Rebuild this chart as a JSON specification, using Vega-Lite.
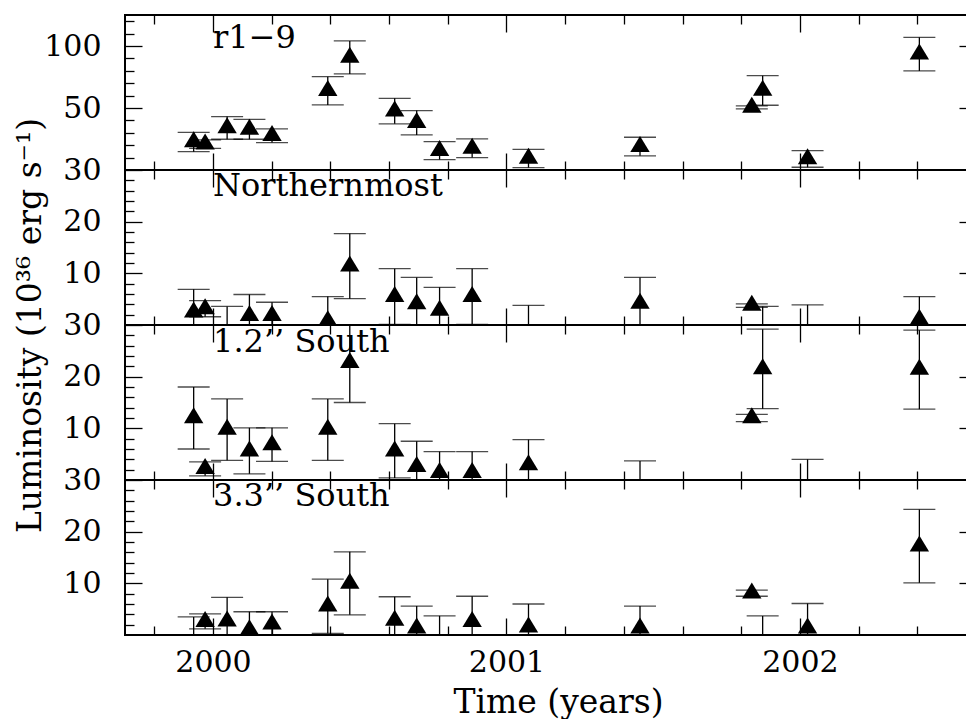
{
  "$schema": "https://vega.github.io/schema/vega-lite/v6.json",
  "background": "white",
  "padding": {"left": 12, "top": 13, "right": 0, "bottom": 0},
  "config": {
    "view": {"stroke": "black", "strokeWidth": 2},
    "axis": {
      "domain": false, "grid": false, "tickColor": "black", "tickWidth": 1.3,
      "labelFont": "DejaVu Serif", "labelFontSize": 30, "labelColor": "black", "labelOverlap": false,
      "titleFont": "DejaVu Serif", "titleFontSize": 33, "titleFontWeight": "normal", "titleColor": "black"
    }
  },
  "datasets": {
    "a": [
      {"t": 1999.934, "v": 22.6, "lo": 14.8, "hi": 30.4},
      {"t": 1999.973, "v": 20.9, "lo": 17.5, "hi": 24.3},
      {"t": 2000.048, "v": 33.9, "lo": 24.8, "hi": 43.1},
      {"t": 2000.124, "v": 32.8, "lo": 24.8, "hi": 40.9},
      {"t": 2000.201, "v": 27.6, "lo": 22.1, "hi": 33.1},
      {"t": 2000.391, "v": 63.9, "lo": 52.5, "hi": 75.3},
      {"t": 2000.466, "v": 90.8, "lo": 77.5, "hi": 104.1},
      {"t": 2000.619, "v": 47.5, "lo": 37.2, "hi": 57.8},
      {"t": 2000.694, "v": 38.1, "lo": 28.3, "hi": 47.9},
      {"t": 2000.772, "v": 15.6, "lo": 8.4, "hi": 22.9},
      {"t": 2000.883, "v": 17.5, "lo": 10.0, "hi": 25.1},
      {"t": 2001.075, "v": 9.3, "lo": 1.9, "hi": 16.7},
      {"t": 2001.455, "v": 18.9, "lo": 11.4, "hi": 26.4},
      {"t": 2001.836, "v": 50.5, "lo": 49.3, "hi": 51.7},
      {"t": 2001.873, "v": 64.2, "lo": 52.2, "hi": 76.1},
      {"t": 2002.026, "v": 8.9, "lo": 2.2, "hi": 15.6},
      {"t": 2002.407, "v": 93.5, "lo": 79.9, "hi": 107.0}
    ],
    "b": [
      {"t": 1999.934, "v": 2.5, "lo": -1.9, "hi": 6.9},
      {"t": 1999.973, "v": 3.1, "lo": 1.6, "hi": 4.7},
      {"t": 2000.048, "v": -2.5, "lo": -8.6, "hi": 3.6},
      {"t": 2000.124, "v": 1.8, "lo": -2.3, "hi": 5.9},
      {"t": 2000.201, "v": 1.8, "lo": -0.8, "hi": 4.4},
      {"t": 2000.391, "v": 0.8, "lo": -3.9, "hi": 5.5},
      {"t": 2000.466, "v": 11.4, "lo": 5.1, "hi": 17.7},
      {"t": 2000.619, "v": 5.5, "lo": 0.1, "hi": 10.9},
      {"t": 2000.694, "v": 4.1, "lo": -1.0, "hi": 9.2},
      {"t": 2000.772, "v": 2.8, "lo": -1.7, "hi": 7.3},
      {"t": 2000.883, "v": 5.5, "lo": 0.1, "hi": 10.9},
      {"t": 2001.075, "v": -2.5, "lo": -8.8, "hi": 3.8},
      {"t": 2001.455, "v": 4.2, "lo": -0.8, "hi": 9.2},
      {"t": 2001.836, "v": 3.8, "lo": 3.4, "hi": 4.1},
      {"t": 2001.873, "v": -2.5, "lo": -8.6, "hi": 3.6},
      {"t": 2002.026, "v": -2.5, "lo": -8.9, "hi": 3.9},
      {"t": 2002.407, "v": 1.1, "lo": -3.3, "hi": 5.5}
    ],
    "c": [
      {"t": 1999.934, "v": 12.0, "lo": 6.0, "hi": 18.0},
      {"t": 1999.973, "v": 2.2, "lo": 0.8, "hi": 3.5},
      {"t": 2000.048, "v": 9.8, "lo": 3.8, "hi": 15.7},
      {"t": 2000.124, "v": 5.6, "lo": 1.2, "hi": 10.1},
      {"t": 2000.201, "v": 6.8, "lo": 3.6, "hi": 10.1},
      {"t": 2000.391, "v": 9.8, "lo": 3.8, "hi": 15.7},
      {"t": 2000.466, "v": 22.7, "lo": 15.0, "hi": 30.4},
      {"t": 2000.619, "v": 5.6, "lo": 0.4, "hi": 10.9},
      {"t": 2000.694, "v": 2.6, "lo": -2.3, "hi": 7.5},
      {"t": 2000.772, "v": 1.4, "lo": -2.7, "hi": 5.5},
      {"t": 2000.883, "v": 1.4, "lo": -2.7, "hi": 5.5},
      {"t": 2001.075, "v": 2.9, "lo": -2.0, "hi": 7.8},
      {"t": 2001.455, "v": -2.5, "lo": -8.7, "hi": 3.7},
      {"t": 2001.836, "v": 12.0, "lo": 11.3, "hi": 12.7},
      {"t": 2001.873, "v": 21.5, "lo": 13.8, "hi": 29.2},
      {"t": 2002.026, "v": -2.5, "lo": -9.0, "hi": 4.0},
      {"t": 2002.407, "v": 21.4, "lo": 13.7, "hi": 29.0}
    ],
    "d": [
      {"t": 1999.934, "v": -2.5, "lo": -8.5, "hi": 3.5},
      {"t": 1999.973, "v": 2.6, "lo": 1.2, "hi": 4.1},
      {"t": 2000.048, "v": 2.7, "lo": -1.9, "hi": 7.3},
      {"t": 2000.124, "v": 1.0, "lo": -2.5, "hi": 4.5},
      {"t": 2000.201, "v": 2.1, "lo": -0.3, "hi": 4.5},
      {"t": 2000.391, "v": 5.6, "lo": 0.3, "hi": 10.8},
      {"t": 2000.466, "v": 10.0, "lo": 3.9, "hi": 16.1},
      {"t": 2000.619, "v": 2.8, "lo": -1.8, "hi": 7.4},
      {"t": 2000.694, "v": 1.3, "lo": -3.0, "hi": 5.6},
      {"t": 2000.772, "v": -2.5, "lo": -8.7, "hi": 3.7},
      {"t": 2000.883, "v": 2.6, "lo": -2.3, "hi": 7.5},
      {"t": 2001.075, "v": 1.5, "lo": -3.0, "hi": 6.0},
      {"t": 2001.455, "v": 1.3, "lo": -3.0, "hi": 5.6},
      {"t": 2001.836, "v": 8.1, "lo": 7.5, "hi": 8.7},
      {"t": 2001.873, "v": -2.5, "lo": -8.7, "hi": 3.7},
      {"t": 2002.026, "v": 1.3, "lo": -3.5, "hi": 6.1},
      {"t": 2002.407, "v": 17.2, "lo": 10.1, "hi": 24.3}
    ],
    "lab": [{"k": 1}]
  },
  "spacing": 0,
  "bounds": "flush",
  "vconcat": [
    {
      "width": 851, "height": 155,
      "data": {"name": "a"},
      "resolve": {"axis": {"x": "independent", "y": "independent"}},
      "layer": [
        {"mark": {"type": "rule", "clip": true, "color": "black", "strokeWidth": 1.3},
         "encoding": {
           "x": {"field": "t", "type": "quantitative", "scale": {"domain": [1999.7, 2002.6], "nice": false, "zero": false},
                 "axis": {"orient": "bottom", "values": [2000, 2001, 2002], "tickSize": -17, "labels": false, "title": null}},
           "y": {"field": "lo", "type": "quantitative", "scale": {"domain": [0, 125], "nice": false, "zero": false},
                 "axis": {"orient": "left", "values": [50, 100], "tickSize": -17, "labelPadding": 41, "title": null}},
           "y2": {"field": "hi"}}},
        {"mark": {"type": "tick", "orient": "horizontal", "clip": true, "color": "black", "size": 32, "thickness": 1.3},
         "encoding": {
           "x": {"field": "t", "type": "quantitative",
                 "axis": {"orient": "bottom", "values": [1999.8, 2000.2, 2000.4, 2000.6, 2000.8, 2001.2, 2001.4, 2001.6, 2001.8, 2002.2, 2002.4], "tickSize": -9, "labels": false, "title": null}},
           "y": {"field": "hi", "type": "quantitative",
                 "axis": {"orient": "left", "values": [10, 20, 30, 40, 60, 70, 80, 90, 110, 120], "tickSize": -9, "labels": false, "title": null}}}},
        {"mark": {"type": "tick", "orient": "horizontal", "clip": true, "color": "black", "size": 32, "thickness": 1.3},
         "encoding": {
           "x": {"field": "t", "type": "quantitative",
                 "axis": {"orient": "top", "values": [2000, 2001, 2002], "tickSize": -17, "labels": false, "title": null}},
           "y": {"field": "lo", "type": "quantitative",
                 "axis": {"orient": "right", "values": [50, 100], "tickSize": -17, "labels": false, "title": null}}}},
        {"mark": {"type": "point", "shape": "M-1,0.55L0,-1.1L1,0.55Z", "filled": true, "color": "black", "opacity": 1, "size": 376, "strokeWidth": 0, "clip": true},
         "encoding": {
           "x": {"field": "t", "type": "quantitative",
                 "axis": {"orient": "top", "values": [1999.8, 2000.2, 2000.4, 2000.6, 2000.8, 2001.2, 2001.4, 2001.6, 2001.8, 2002.2, 2002.4], "tickSize": -9, "labels": false, "title": null}},
           "y": {"field": "v", "type": "quantitative",
                 "axis": {"orient": "right", "values": [10, 20, 30, 40, 60, 70, 80, 90, 110, 120], "tickSize": -9, "labels": false, "title": null}}}},
        {"data": {"name": "lab"},
         "mark": {"type": "text", "align": "left", "baseline": "alphabetic", "font": "DejaVu Serif", "fontSize": 32, "color": "black", "text": "r1−9"},
         "encoding": {
           "x": {"datum": 2000.0, "type": "quantitative", "axis": null},
           "y": {"datum": 98.7, "type": "quantitative", "axis": null}}}
      ]
    },
    {
      "width": 851, "height": 155,
      "data": {"name": "b"},
      "resolve": {"axis": {"x": "independent", "y": "independent"}},
      "layer": [
        {"mark": {"type": "rule", "clip": true, "color": "black", "strokeWidth": 1.3},
         "encoding": {
           "x": {"field": "t", "type": "quantitative", "scale": {"domain": [1999.7, 2002.6], "nice": false, "zero": false},
                 "axis": {"orient": "bottom", "values": [2000, 2001, 2002], "tickSize": -17, "labels": false, "title": null}},
           "y": {"field": "lo", "type": "quantitative", "scale": {"domain": [0, 30], "nice": false, "zero": false},
                 "axis": {"orient": "left", "values": [10, 20, 30], "tickSize": -17, "labelPadding": 41,
                          "title": "Luminosity (10³⁶ erg s⁻¹)", "titleX": -95, "titleY": 155, "titleAngle": 270, "titleAlign": "center", "titleBaseline": "middle"}},
           "y2": {"field": "hi"}}},
        {"mark": {"type": "tick", "orient": "horizontal", "clip": true, "color": "black", "size": 32, "thickness": 1.3},
         "encoding": {
           "x": {"field": "t", "type": "quantitative",
                 "axis": {"orient": "bottom", "values": [1999.8, 2000.2, 2000.4, 2000.6, 2000.8, 2001.2, 2001.4, 2001.6, 2001.8, 2002.2, 2002.4], "tickSize": -9, "labels": false, "title": null}},
           "y": {"field": "hi", "type": "quantitative",
                 "axis": {"orient": "left", "values": [2, 4, 6, 8, 12, 14, 16, 18, 22, 24, 26, 28], "tickSize": -9, "labels": false, "title": null}}}},
        {"mark": {"type": "tick", "orient": "horizontal", "clip": true, "color": "black", "size": 32, "thickness": 1.3},
         "encoding": {
           "x": {"field": "t", "type": "quantitative",
                 "axis": {"orient": "top", "values": [2000, 2001, 2002], "tickSize": -17, "labels": false, "title": null}},
           "y": {"field": "lo", "type": "quantitative",
                 "axis": {"orient": "right", "values": [10, 20], "tickSize": -17, "labels": false, "title": null}}}},
        {"mark": {"type": "point", "shape": "M-1,0.55L0,-1.1L1,0.55Z", "filled": true, "color": "black", "opacity": 1, "size": 376, "strokeWidth": 0, "clip": true},
         "encoding": {
           "x": {"field": "t", "type": "quantitative",
                 "axis": {"orient": "top", "values": [1999.8, 2000.2, 2000.4, 2000.6, 2000.8, 2001.2, 2001.4, 2001.6, 2001.8, 2002.2, 2002.4], "tickSize": -9, "labels": false, "title": null}},
           "y": {"field": "v", "type": "quantitative",
                 "axis": {"orient": "right", "values": [2, 4, 6, 8, 12, 14, 16, 18, 22, 24, 26, 28], "tickSize": -9, "labels": false, "title": null}}}},
        {"data": {"name": "lab"},
         "mark": {"type": "text", "align": "left", "baseline": "alphabetic", "font": "DejaVu Serif", "fontSize": 32, "color": "black", "text": "Northernmost"},
         "encoding": {
           "x": {"datum": 2000.0, "type": "quantitative", "axis": null},
           "y": {"datum": 24.9, "type": "quantitative", "axis": null}}}
      ]
    },
    {
      "width": 851, "height": 155,
      "data": {"name": "c"},
      "resolve": {"axis": {"x": "independent", "y": "independent"}},
      "layer": [
        {"mark": {"type": "rule", "clip": true, "color": "black", "strokeWidth": 1.3},
         "encoding": {
           "x": {"field": "t", "type": "quantitative", "scale": {"domain": [1999.7, 2002.6], "nice": false, "zero": false},
                 "axis": {"orient": "bottom", "values": [2000, 2001, 2002], "tickSize": -17, "labels": false, "title": null}},
           "y": {"field": "lo", "type": "quantitative", "scale": {"domain": [0, 30], "nice": false, "zero": false},
                 "axis": {"orient": "left", "values": [10, 20, 30], "tickSize": -17, "labelPadding": 41, "title": null}},
           "y2": {"field": "hi"}}},
        {"mark": {"type": "tick", "orient": "horizontal", "clip": true, "color": "black", "size": 32, "thickness": 1.3},
         "encoding": {
           "x": {"field": "t", "type": "quantitative",
                 "axis": {"orient": "bottom", "values": [1999.8, 2000.2, 2000.4, 2000.6, 2000.8, 2001.2, 2001.4, 2001.6, 2001.8, 2002.2, 2002.4], "tickSize": -9, "labels": false, "title": null}},
           "y": {"field": "hi", "type": "quantitative",
                 "axis": {"orient": "left", "values": [2, 4, 6, 8, 12, 14, 16, 18, 22, 24, 26, 28], "tickSize": -9, "labels": false, "title": null}}}},
        {"mark": {"type": "tick", "orient": "horizontal", "clip": true, "color": "black", "size": 32, "thickness": 1.3},
         "encoding": {
           "x": {"field": "t", "type": "quantitative",
                 "axis": {"orient": "top", "values": [2000, 2001, 2002], "tickSize": -17, "labels": false, "title": null}},
           "y": {"field": "lo", "type": "quantitative",
                 "axis": {"orient": "right", "values": [10, 20], "tickSize": -17, "labels": false, "title": null}}}},
        {"mark": {"type": "point", "shape": "M-1,0.55L0,-1.1L1,0.55Z", "filled": true, "color": "black", "opacity": 1, "size": 376, "strokeWidth": 0, "clip": true},
         "encoding": {
           "x": {"field": "t", "type": "quantitative",
                 "axis": {"orient": "top", "values": [1999.8, 2000.2, 2000.4, 2000.6, 2000.8, 2001.2, 2001.4, 2001.6, 2001.8, 2002.2, 2002.4], "tickSize": -9, "labels": false, "title": null}},
           "y": {"field": "v", "type": "quantitative",
                 "axis": {"orient": "right", "values": [2, 4, 6, 8, 12, 14, 16, 18, 22, 24, 26, 28], "tickSize": -9, "labels": false, "title": null}}}},
        {"data": {"name": "lab"},
         "mark": {"type": "text", "align": "left", "baseline": "alphabetic", "font": "DejaVu Serif", "fontSize": 32, "color": "black", "text": "1.2’’ South"},
         "encoding": {
           "x": {"datum": 2000.0, "type": "quantitative", "axis": null},
           "y": {"datum": 24.7, "type": "quantitative", "axis": null}}}
      ]
    },
    {
      "width": 851, "height": 155,
      "data": {"name": "d"},
      "resolve": {"axis": {"x": "independent", "y": "independent"}},
      "layer": [
        {"mark": {"type": "rule", "clip": true, "color": "black", "strokeWidth": 1.3},
         "encoding": {
           "x": {"field": "t", "type": "quantitative", "scale": {"domain": [1999.7, 2002.6], "nice": false, "zero": false},
                 "axis": {"orient": "bottom", "values": [2000, 2001, 2002], "tickSize": -17, "format": "d",
                          "labelBaseline": "alphabetic", "labelPadding": 53,
                          "title": "Time (years)", "titleX": 433, "titleY": 77, "titleAlign": "center", "titleBaseline": "alphabetic"}},
           "y": {"field": "lo", "type": "quantitative", "scale": {"domain": [0, 30], "nice": false, "zero": false},
                 "axis": {"orient": "left", "values": [10, 20, 30], "tickSize": -17, "labelPadding": 41, "title": null}},
           "y2": {"field": "hi"}}},
        {"mark": {"type": "tick", "orient": "horizontal", "clip": true, "color": "black", "size": 32, "thickness": 1.3},
         "encoding": {
           "x": {"field": "t", "type": "quantitative",
                 "axis": {"orient": "bottom", "values": [1999.8, 2000.2, 2000.4, 2000.6, 2000.8, 2001.2, 2001.4, 2001.6, 2001.8, 2002.2, 2002.4], "tickSize": -9, "labels": false, "title": null}},
           "y": {"field": "hi", "type": "quantitative",
                 "axis": {"orient": "left", "values": [2, 4, 6, 8, 12, 14, 16, 18, 22, 24, 26, 28], "tickSize": -9, "labels": false, "title": null}}}},
        {"mark": {"type": "tick", "orient": "horizontal", "clip": true, "color": "black", "size": 32, "thickness": 1.3},
         "encoding": {
           "x": {"field": "t", "type": "quantitative",
                 "axis": {"orient": "top", "values": [2000, 2001, 2002], "tickSize": -17, "labels": false, "title": null}},
           "y": {"field": "lo", "type": "quantitative",
                 "axis": {"orient": "right", "values": [10, 20], "tickSize": -17, "labels": false, "title": null}}}},
        {"mark": {"type": "point", "shape": "M-1,0.55L0,-1.1L1,0.55Z", "filled": true, "color": "black", "opacity": 1, "size": 376, "strokeWidth": 0, "clip": true},
         "encoding": {
           "x": {"field": "t", "type": "quantitative",
                 "axis": {"orient": "top", "values": [1999.8, 2000.2, 2000.4, 2000.6, 2000.8, 2001.2, 2001.4, 2001.6, 2001.8, 2002.2, 2002.4], "tickSize": -9, "labels": false, "title": null}},
           "y": {"field": "v", "type": "quantitative",
                 "axis": {"orient": "right", "values": [2, 4, 6, 8, 12, 14, 16, 18, 22, 24, 26, 28], "tickSize": -9, "labels": false, "title": null}}}},
        {"data": {"name": "lab"},
         "mark": {"type": "text", "align": "left", "baseline": "alphabetic", "font": "DejaVu Serif", "fontSize": 32, "color": "black", "text": "3.3’’ South"},
         "encoding": {
           "x": {"datum": 2000.0, "type": "quantitative", "axis": null},
           "y": {"datum": 24.9, "type": "quantitative", "axis": null}}}
      ]
    }
  ]
}
